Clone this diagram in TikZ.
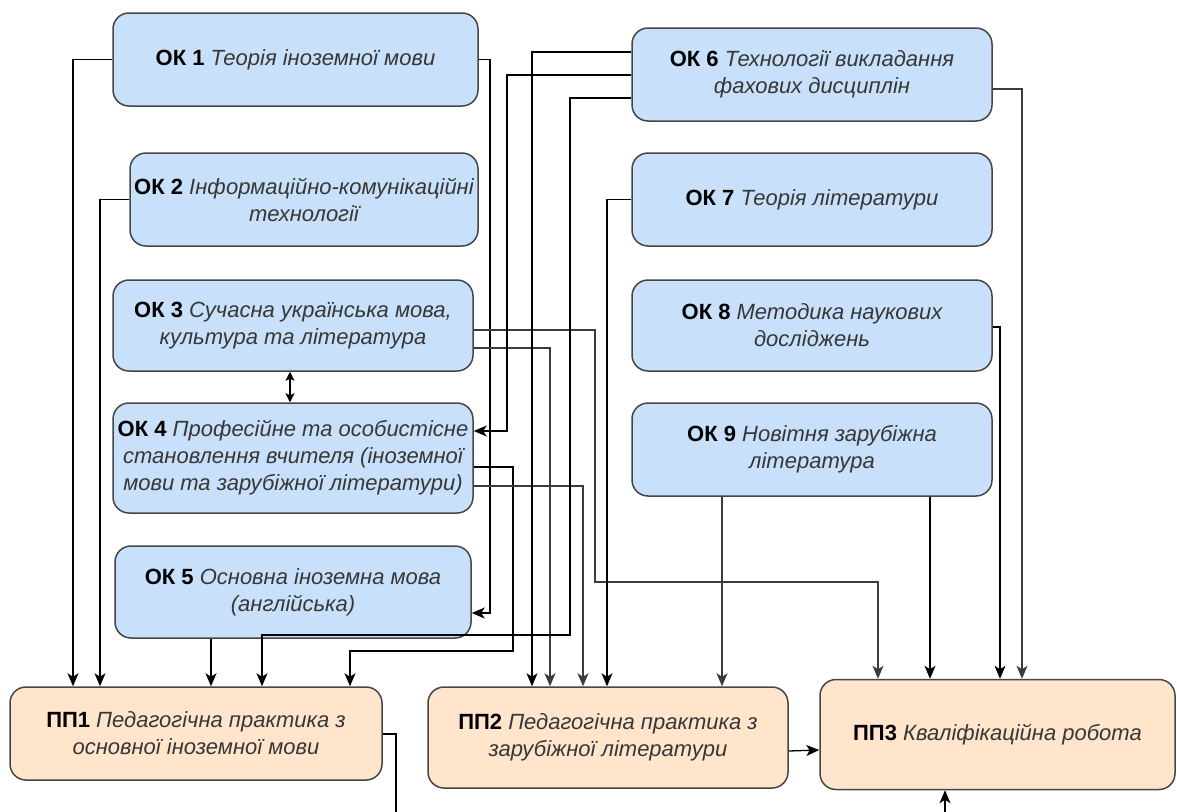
\documentclass[tikz,border=0pt]{standalone}
\usepackage{fontspec}
\setmainfont{Liberation Sans}
\usetikzlibrary{arrows.meta}
\definecolor{okfill}{RGB}{200,224,250}
\definecolor{ppfill}{RGB}{255,229,204}
\definecolor{bord}{RGB}{70,70,70}
\definecolor{txtg}{RGB}{55,55,55}
\definecolor{lgray}{RGB}{60,60,60}
\newcommand{\lbl}[1]{{\upshape\bfseries\color{black}#1}}
\tikzset{
  box/.style={draw=bord, line width=1.5pt, rounded corners=16pt, align=center,
    font=\fontsize{22}{27}\selectfont\itshape, text=txtg, inner sep=0pt},
  okbox/.style={box, fill=okfill},
  ppbox/.style={box, fill=ppfill},
  conn/.style={draw=black, line width=1.3pt, -{Stealth[length=13pt,width=11pt,inset=3.5pt]}},
  gconn/.style={conn, draw=lgray},
  dconn/.style={draw=black, line width=1.3pt, {Stealth[length=9pt,width=9pt,inset=2pt]}-{Stealth[length=9pt,width=9pt,inset=2pt]}},
}
\begin{document}
\begin{tikzpicture}[x=1pt,y=-1pt]
\useasboundingbox (0,0) rectangle (1177,811);
\clip (0,0) rectangle (1177,811);
\fill[white] (0,0) rectangle (1177,811);
% left column
\node[okbox, minimum width=365pt, minimum height=93pt] (ok1) at (295.5,59.5) {\lbl{ОК 1} Теорія іноземної мови};
\node[okbox, minimum width=348pt, minimum height=93pt] (ok2) at (304,199.5) {\lbl{ОК 2} Інформаційно-комунікаційні\\технології};
\node[okbox, minimum width=360pt, minimum height=91pt] (ok3) at (293,325.5) {\lbl{ОК 3} Сучасна українська мова,\\культура та література};
\node[okbox, minimum width=360pt, minimum height=110pt] (ok4) at (293,458) {\lbl{ОК 4} Професійне та особистісне\\становлення вчителя (іноземної\\мови та зарубіжної літератури)};
\node[okbox, minimum width=356pt, minimum height=92pt] (ok5) at (293,592) {\lbl{ОК 5} Основна іноземна мова\\(англійська)};
% right column
\node[okbox, minimum width=360pt, minimum height=93pt] (ok6) at (812,74.5) {\lbl{ОК 6} Технології викладання\\фахових дисциплін};
\node[okbox, minimum width=360pt, minimum height=93pt] (ok7) at (812,199.5) {\lbl{ОК 7} Теорія літератури};
\node[okbox, minimum width=360pt, minimum height=91pt] (ok8) at (812,325.5) {\lbl{ОК 8} Методика наукових\\досліджень};
\node[okbox, minimum width=360pt, minimum height=93pt] (ok9) at (812,449.5) {\lbl{ОК 9} Новітня зарубіжна\\література};
% bottom row
\node[ppbox, minimum width=372pt, minimum height=93pt] (pp1) at (196,733.5) {\lbl{ПП1} Педагогічна практика з\\основної іноземної мови};
\node[ppbox, minimum width=360pt, minimum height=101pt] (pp2) at (608,737.5) {\lbl{ПП2} Педагогічна практика з\\зарубіжної літератури};
\node[ppbox, minimum width=355pt, minimum height=110pt] (pp3) at (997.5,734.5) {\lbl{ПП3} Кваліфікаційна робота};
% connectors
\draw[conn] (ok1.west) -| (pp1.north -| 73,0);
\draw[conn] (ok1.east) -| (490,613) -- (ok5.east |- 0,613);
\draw[conn] (ok2.west) -| (pp1.north -| 100,0);
\draw[conn] (ok5.south -| 211,0) -- (pp1.north -| 211,0);
\draw[dconn] (ok3.south -| 290,0) -- (ok4.north -| 290,0);
\draw[gconn] (ok3.east |- 0,330) -| (595,582) -| (pp3.north -| 878,0);
\draw[gconn] (ok3.east |- 0,348) -| (pp2.north -| 550,0);
\draw[conn] (ok4.east |- 0,467) -| (513,651) -| (pp1.north -| 350,0);
\draw[gconn] (ok4.east |- 0,486) -| (pp2.north -| 583,0);
\draw[conn] (ok6.west |- 0,52) -| (pp2.north -| 532,0);
\draw[conn] (ok6.west |- 0,75) -| (507,431) -- (ok4.east |- 0,431);
\draw[conn] (ok6.west |- 0,98) -| (570,635) -| (pp1.north -| 262,0);
\draw[gconn] (ok6.east |- 0,89) -| (pp3.north -| 1022,0);
\draw[conn] (ok7.west) -| (pp2.north -| 607,0);
\draw[conn] (ok8.east |- 0,327) -| (pp3.north -| 1000,0);
\draw[gconn] (ok9.south -| 722,0) -- (pp2.north -| 722,0);
\draw[conn] (ok9.south -| 930,0) -- (pp3.north -| 930,0);
\draw[conn] (pp2.east |- 0,751) -- (pp3.west |- 0,750);
\draw[conn] (pp1.east |- 0,734) -| (396,840) -| (pp3.south -| 945,0);
\end{tikzpicture}
\end{document}
